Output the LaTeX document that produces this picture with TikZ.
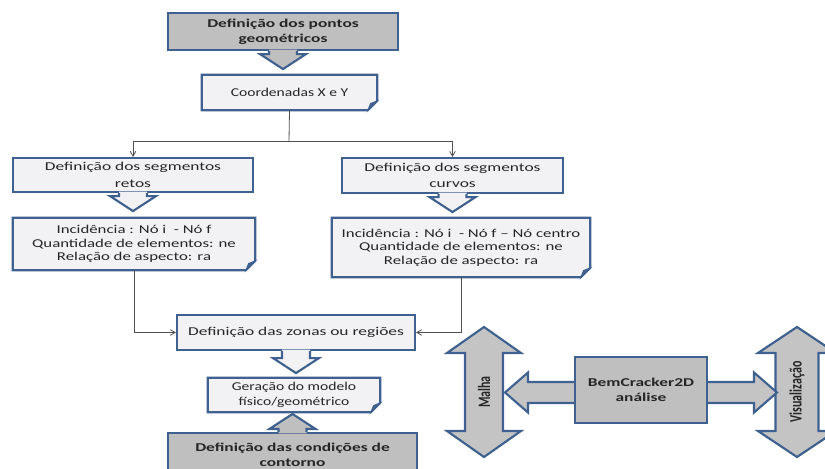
\documentclass[tikz,border=0pt]{standalone}
\usepackage{graphicx}
\usepackage{fontspec}
\setmainfont{Carlito}
\newfontfamily\widefont{Carlito}[FakeStretch=1.45]
\newfontfamily\notefont{Carlito}[FakeStretch=1.4]
\newfontfamily\smallnotefont{Carlito}[FakeStretch=1.3]
\usetikzlibrary{arrows,calc}
\definecolor{boxline}{HTML}{3F6190}
\definecolor{boxfill}{HTML}{F2F2F4}
\definecolor{darkfill}{HTML}{BFBFBF}
\definecolor{arrowfill}{HTML}{C4C4C4}
\definecolor{edgegray}{HTML}{505050}

\begin{document}
\begin{tikzpicture}[x=0.75pt,y=-0.75pt, every node/.style={font=\fontsize{9}{11}\selectfont, text=black!85}]
\tikzset{callout/.style = {shape=rectangle, draw=boxline, fill=boxfill, line width=1.6pt, align=center, inner sep=0pt, font=\fontsize{9}{12.5}\widefont}}
\tikzset{darkcallout/.style = {callout, fill=darkfill, font=\fontsize{9}{11}\widefont\bfseries}}
\tikzset{notebox/.style = {shape=rectangle, fill=boxfill, align=center, inner sep=0pt, font=\fontsize{9}{10.1}\notefont}}
\tikzset{smallnote/.style = {notebox, font=\fontsize{9}{11}\smallnotefont}}
\tikzset{outline/.style = {draw=boxline, line width=1.6pt, line join=miter}}
\tikzset{bigarrow/.style = {outline, fill=arrowfill}}
\tikzset{sidelabel/.style = {rotate=90, font=\fontsize{9}{11}\selectfont\bfseries}}
\tikzset{edge/.style = {line width=0.6pt, draw=edgegray, ->, >=angle 60}}
\path[use as bounding box, clip] (0,0) rectangle (825,468);
% left column
\node[darkcallout, minimum width=172.5pt, minimum height=27.75pt] (pontos) at (283,31.5) {Definição dos pontos\\geométricos};
\node[smallnote, minimum width=131.25pt, minimum height=26.25pt] (coord) at (289.5,92.5) {Coordenadas X e Y};
\node[callout, minimum width=180pt, minimum height=25.5pt] (retos) at (133,175) {Definição dos segmentos\\retos};
\node[callout, minimum width=165.75pt, minimum height=26.25pt] (curvos) at (452.5,175.5) {Definição dos segmentos\\curvos};
\node[notebox, minimum width=181.5pt, minimum height=39pt] (retosnote) at (134,244) {Incidência : Nó i \ - Nó f\\Quantidade de elementos: ne\\Relação de aspecto: ra};
\node[notebox, minimum width=193.5pt, minimum height=44.25pt] (curvosnote) at (461,247.5) {Incidência : Nó i \ - Nó f – Nó centro\\Quantidade de elementos: ne\\Relação de aspecto: ra};
\node[callout, minimum width=178.5pt, minimum height=26.25pt] (zonas) at (296,332.5) {Definição das zonas ou regiões};
\node[smallnote, minimum width=129pt, minimum height=25.5pt] (geracao) at (294,395) {Geração do modelo\\físico/geométrico};
\node[darkcallout, minimum width=186.75pt, minimum height=33pt] (contorno) at (292.5,455) {Definição das condições de\\contorno};
% callout tips
\foreach \n/\a/\c/\s/\d in {pontos/south/darkfill/3/1, retos/south/boxfill/3/1, curvos/south/boxfill/3/1, zonas/south/boxfill/7/1, contorno/north/darkfill/3/-1} {
  \begin{scope}[shift={(\n.\a)}, yscale=\d]
    \fill[\c] (-14,-1.5) -- (-14,\s) -- (-23,\s) -- (0,\s+15) -- (23,\s) -- (14,\s) -- (14,-1.5) -- cycle;
    \draw[outline] (-14,0) -- (-14,\s) -- (-23,\s) -- (0,\s+15) -- (23,\s) -- (14,\s) -- (14,0);
  \end{scope}
}
% folded notes
\foreach \n in {coord, retosnote, curvosnote, geracao} {
  \fill[white] ([xshift=-9pt,yshift=-2pt]\n.south east) -- ([xshift=2pt,yshift=-2pt]\n.south east) -- ([xshift=2pt,yshift=9pt]\n.south east) -- cycle;
  \draw[outline] (\n.north west) -- (\n.north east) -- ([yshift=7pt]\n.south east) -- ([xshift=-7pt]\n.south east) -- (\n.south west) -- cycle;
  \filldraw[outline, fill=boxline, line width=0.8pt] ([yshift=7pt]\n.south east) -- ([xshift=-7pt]\n.south east) -- ([xshift=-5pt,yshift=5pt]\n.south east) -- cycle;
}
%edges
\coordinate (split) at (289,141);
\draw[line width=0.6pt, draw=edgegray] (coord.south) -- (split);
\draw[edge] (split) -| (retos.north);
\draw[edge] (split) -| (curvos.north);
\draw[edge] (retosnote.south) |- (zonas.west);
\draw[edge] (curvosnote.south) |- (zonas.east);
% right group
\draw[bigarrow] (484,327) -- (521,353) -- (503,353) -- (503,431) -- (521,431) -- (484,457) -- (447,431) -- (465,431) -- (465,353) -- (447,353) -- cycle;
\draw[bigarrow] (797,327) -- (836,353) -- (818.5,353) -- (818.5,431) -- (836,431) -- (797,457) -- (758,431) -- (775.5,431) -- (775.5,353) -- (758,353) -- cycle;
\draw[bigarrow] (505,392.5) -- (528,372.5) -- (528,382) -- (754,382) -- (754,372.5) -- (777,392.5) -- (754,412.5) -- (754,403) -- (528,403) -- (528,412.5) -- cycle;
\node[darkcallout, minimum width=99pt, minimum height=49.5pt] (bem) at (641,390) {BemCracker2D\\análise};
\node[sidelabel] (malha) at (484,392) {\scalebox{1}[1.45]{Malha}};
\node[sidelabel] (vis) at (797,392) {\scalebox{1}[1.45]{Visualização}};
\end{tikzpicture}
\end{document}
